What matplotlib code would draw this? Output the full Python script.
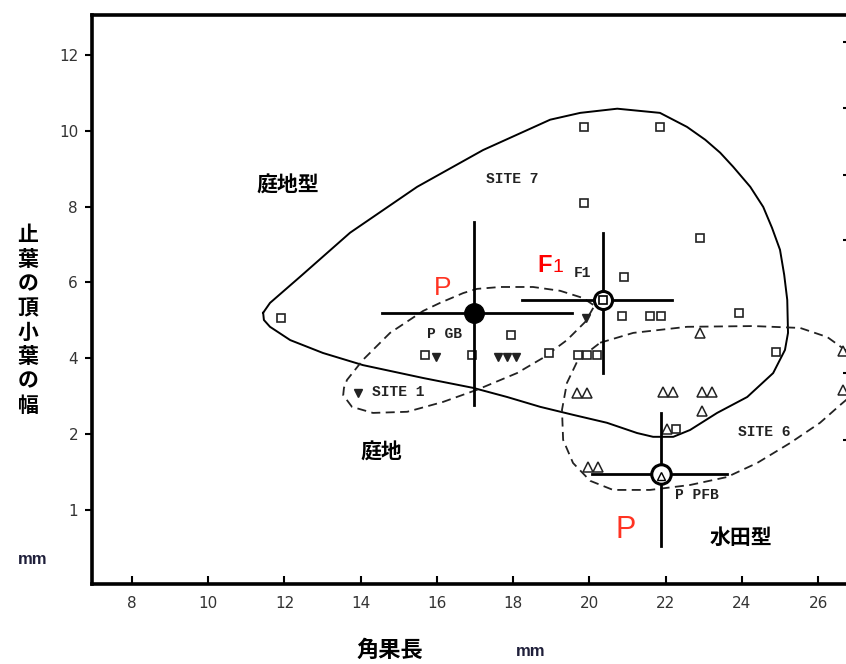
import numpy as np
import matplotlib
matplotlib.use("Agg")
import matplotlib.pyplot as plt

plt.rcParams['font.family'] = ['Noto Sans CJK JP', 'DejaVu Sans']

# --- axis ticks ---
X_TICKS = [8, 10, 12, 14, 16, 18, 20, 22, 24, 26]
Y_TICKS = [12, 10, 8, 6, 4, 2, 0]
Y_TICK_LABELS = ["12", "10", "8", "6", "4", "2", "1"]
RIGHT_TICKS = [12.34, 10.6, 8.84, 7.12, 3.61, 1.85]

# --- individual plants ---
sq_x = [11.9, 19.85, 21.85, 19.86, 22.9, 20.91, 20.86, 21.6, 21.88, 23.93, 24.9,
        17.94, 18.94, 19.7, 19.94, 20.2, 15.69, 16.92, 22.27]
sq_y = [5.05, 10.1, 10.1, 8.1, 7.17, 6.15, 5.12, 5.12, 5.12, 5.2, 4.17,
        4.62, 4.14, 4.1, 4.1, 4.1, 4.08, 4.1, 2.14]

tri_down_x = [15.98, 17.6, 17.84, 18.08, 13.93, 19.91]
tri_down_y = [4.03, 4.03, 4.03, 4.03, 3.09, 5.06]

tri_up_x = [22.9, 26.66, 26.66, 19.68, 19.94, 21.93, 22.2, 22.96, 23.22, 22.96, 22.04, 19.97, 20.23]
tri_up_y = [4.67, 4.2, 3.16, 3.09, 3.09, 3.1, 3.1, 3.1, 3.1, 2.61, 2.14, 1.14, 1.14]

# --- group means with ranges ---
mean_names = ["P GB", "F1", "P PFB"]
mean_x = [16.97, 20.36, 21.88]
mean_y = [5.2, 5.54, 0.95]
range_x_lo = [14.56, 18.23, 20.07]
range_x_hi = [19.55, 22.17, 23.61]
range_y_lo = [2.77, 3.61, -0.96]
range_y_hi = [7.6, 7.31, 2.56]

# --- enclosure outlines ---
site7_x = [11.44, 11.62, 12.41, 13.72, 15.48, 17.21, 18.97, 19.76, 20.73, 21.85, 22.56,
           23.04, 23.43, 23.77, 24.22, 24.56, 24.79, 25.00, 25.11, 25.19, 25.21, 25.13,
           24.82, 24.14, 23.35, 22.64, 22.20, 21.67, 21.25, 20.46, 19.57, 18.71, 17.84,
           16.95, 15.64, 14.06, 13.01, 12.15, 11.62, 11.46, 11.44]
site7_y = [5.20, 5.46, 6.15, 7.31, 8.52, 9.49, 10.29, 10.47, 10.58, 10.47, 10.10,
           9.76, 9.42, 9.05, 8.52, 7.99, 7.44, 6.86, 6.20, 5.54, 4.67, 4.22,
           3.61, 2.98, 2.56, 2.11, 1.93, 1.93, 2.03, 2.30, 2.51, 2.72, 2.98,
           3.22, 3.48, 3.82, 4.14, 4.48, 4.83, 5.01, 5.20]

site1_x = [20.10, 19.83, 19.23, 18.52, 17.66, 17.05, 16.69, 16.08, 15.64, 14.77, 14.06,
           13.64, 13.56, 13.54, 13.77, 14.32, 15.22, 16.16, 17.05, 18.10, 18.78, 19.41,
           19.89, 20.10]
site1_y = [5.41, 5.59, 5.78, 5.88, 5.88, 5.83, 5.72, 5.46, 5.25, 4.67, 3.96,
           3.43, 3.22, 3.03, 2.72, 2.56, 2.59, 2.85, 3.17, 3.61, 4.01, 4.48,
           4.96, 5.33]

site6_x = [20.28, 21.15, 22.56, 24.30, 25.53, 26.24, 26.71, 27.05, 27.05, 26.58, 26.05,
           25.27, 24.40, 23.61, 22.64, 21.59, 20.62, 20.02, 19.57, 19.31, 19.28, 19.41,
           19.70, 20.28]
site6_y = [4.41, 4.67, 4.83, 4.85, 4.80, 4.56, 4.22, 3.75, 3.17, 2.77, 2.30,
           1.77, 1.24, 0.87, 0.66, 0.53, 0.53, 0.77, 1.24, 1.85, 2.64, 3.35,
           3.96, 4.41]

fig = plt.figure(figsize=(8.46, 6.64), dpi=100)
ax = fig.add_axes([92 / 846, 80 / 664, 757 / 846, 569 / 664])
ax.set_xlim(6.95, 26.81)
ax.set_ylim(-1.95, 13.05)

for s in ax.spines.values():
    s.set_linewidth(2.6)

ax.set_xticks(X_TICKS)
ax.set_xticklabels([str(t) for t in X_TICKS])
ax.set_yticks(Y_TICKS)
ax.set_yticklabels(Y_TICK_LABELS)
ax.tick_params(axis='x', direction='in', length=6, width=1.5, pad=9,
               labelsize=11, labelcolor='#333333')
ax.tick_params(axis='y', direction='out', length=5, width=1.5, pad=5,
               labelsize=11, labelcolor='#333333')
for lab in ax.get_xticklabels() + ax.get_yticklabels():
    lab.set_family('DejaVu Sans')

ax2 = ax.twinx()
ax2.set_ylim(ax.get_ylim())
ax2.set_yticks(RIGHT_TICKS)
ax2.set_yticklabels([])
ax2.tick_params(axis='y', direction='in', length=4, width=1.5)
for s in ax2.spines.values():
    s.set_visible(False)

# enclosures
ax.plot(site7_x, site7_y, color='black', lw=1.4)
ax.plot(site1_x, site1_y, color='#222222', lw=1.3, ls=(0, (5, 3)))
ax.plot(site6_x, site6_y, color='#222222', lw=1.3, ls=(0, (5, 3)))

# individuals
ax.plot(sq_x, sq_y, ls='none', marker='s', ms=6, mfc='white', mec='#222222', mew=1.2)
ax.plot(tri_down_x, tri_down_y, ls='none', marker='v', ms=6, color='#222222')
ax.plot(tri_up_x, tri_up_y, ls='none', marker='^', ms=6.5, mfc='white', mec='#222222', mew=1.1)

# means with ranges
for i in range(len(mean_names)):
    ax.plot([range_x_lo[i], range_x_hi[i]], [mean_y[i], mean_y[i]], color='black', lw=2.0)
    ax.plot([mean_x[i], mean_x[i]], [range_y_lo[i], range_y_hi[i]], color='black', lw=2.0)

ax.plot(mean_x[0], mean_y[0], marker='o', ms=14, color='black')
ax.plot(mean_x[1], mean_y[1], marker='o', ms=13, mfc='white', mec='black', mew=2.2)
ax.plot(mean_x[1], mean_y[1], marker='s', ms=6, mfc='white', mec='black', mew=1.2)
ax.plot(mean_x[2], mean_y[2], marker='o', ms=14, mfc='white', mec='black', mew=2.2)
ax.plot(mean_x[2], mean_y[2] - 0.05, marker='^', ms=6, mfc='white', mec='black', mew=1.0)

# typewriter labels
mono = dict(family='Liberation Mono', fontsize=10.5, color='#222222', ha='center',
            va='center', fontweight='bold')
ax.text(17.97, 8.73, "SITE 7", **mono)
ax.text(14.98, 3.11, "SITE 1", **mono)
ax.text(24.58, 2.06, "SITE 6", **mono)
ax.text(16.21, 4.64, "P GB", **mono)
ax.text(19.81, 6.25, "F1", **mono)
ax.text(22.83, 0.40, "P PFB", **mono)

# Japanese group labels
jp = dict(fontsize=15, fontweight='bold', ha='center', va='center', color='black')
ax.text(12.09, 8.57, "庭地型", **jp)
ax.text(14.53, 1.53, "庭地", **jp)
ax.text(23.98, -0.71, "水田型", **jp)

# red annotations
ax.text(16.16, 5.86, "P", family='Liberation Sans', fontsize=19, color='#ff3322',
        ha='center', va='center')
ax.text(20.94, -0.53, "P", family='Liberation Sans', fontsize=22, color='#ff3322',
        ha='center', va='center')
ax.text(19.02, 6.44, "F", family='Liberation Sans', fontsize=17, fontweight='bold',
        color='#ff0000', ha='right', va='center')
ax.text(19.02, 6.40, "1", family='Liberation Sans', fontsize=14,
        color='#ff0000', ha='left', va='center')

# axis titles
fig.text(390 / 846, 1 - 650 / 664, "角果長", fontsize=16, fontweight='bold',
         ha='center', va='center')
fig.text(531 / 846, 1 - 652 / 664, "mm", family='Liberation Sans', fontsize=12,
         fontweight='bold', color='#1f1f3a', ha='center', va='center')
fig.text(28 / 846, 1 - 320 / 664, "\n".join("止葉の頂小葉の幅"), fontsize=15,
         fontweight='bold', ha='center', va='center', linespacing=1.2)
fig.text(33 / 846, 1 - 560 / 664, "mm", family='Liberation Sans', fontsize=12,
         fontweight='bold', color='#1f1f3a', ha='center', va='center')

fig.savefig("out.png", dpi=100, facecolor='white')
